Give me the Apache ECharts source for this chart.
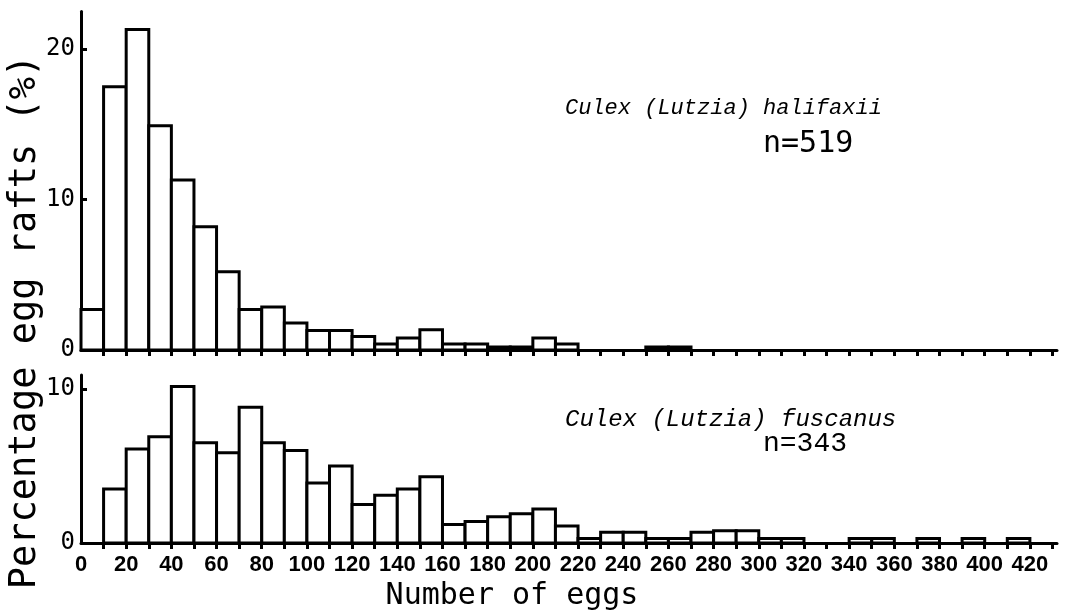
<!DOCTYPE html>
<html>
<head>
<meta charset="utf-8">
<script src="https://cdn.jsdelivr.net/npm/echarts@6/dist/echarts.min.js"></script>
<style>
  html, body { margin: 0; padding: 0; background: #fff; }
  #chart { width: 1066px; height: 614px; }
</style>
</head>
<body>
<div id="chart"></div>
<script>
// bins of 10 eggs, value = start of bin
var binWidth = 10;
var binStarts = [0,10,20,30,40,50,60,70,80,90,100,110,120,130,140,150,160,170,180,190,200,
  210,220,230,240,250,260,270,280,290,300,310,320,330,340,350,360,370,380,390,400,410,420];

// % of egg rafts per bin
var halifaxii = [2.7,17.5,21.3,14.9,11.3,8.2,5.2,2.7,2.85,1.8,1.3,1.3,0.9,0.4,0.8,1.35,0.4,0.4,0.2,0.2,0.8,
  0.4,0,0,0,0.2,0.2,0,0,0,0,0,0,0,0,0,0,0,0,0,0,0,0];
var fuscanus = [0,3.5,6.1,6.9,10.15,6.5,5.85,8.8,6.5,6.0,3.9,5.0,2.5,3.1,3.5,4.3,1.2,1.4,1.7,1.9,2.2,
  1.1,0.3,0.7,0.7,0.3,0.3,0.7,0.8,0.8,0.3,0.3,0,0,0.3,0.3,0,0.3,0,0.3,0,0.3,0];

// tick marks / labels
var xTicks = [10,20,30,40,50,60,70,80,90,100,110,120,130,140,150,160,170,180,190,200,210,
  220,230,240,250,260,270,280,290,300,310,320,330,340,350,360,370,380,390,400,410,420,430];
var xLabels = [0,20,40,60,80,100,120,140,160,180,200,220,240,260,280,300,320,340,360,380,400,420];
var yLabelsTop = [0,10,20];
var yLabelsBottom = [0,10];

var chart = echarts.init(document.getElementById('chart'));

function histItem(params, api) {
  var v = api.value(1);
  if (!v) return null;
  var s = api.value(0);
  var p0 = api.coord([s, v]);
  var p1 = api.coord([s + binWidth, 0]);
  return {
    type: 'rect',
    shape: { x: p0[0], y: p0[1], width: p1[0] - p0[0], height: p1[1] - p0[1] },
    style: { fill: '#fff', stroke: '#000', lineWidth: 3 }
  };
}

function pairs(vals) {
  return binStarts.map(function (s, i) { return [s, vals[i]]; });
}

var axisLine = { show: true, lineStyle: { color: '#000', width: 3 } };

function xAxisOf(idx, withLabels) {
  return {
    type: 'value', gridIndex: idx, min: 0, max: 432,
    axisLine: axisLine,
    splitLine: { show: false },
    axisTick: { show: true, customValues: xTicks, length: 6, inside: false,
      lineStyle: { color: '#000', width: 3 } },
    axisLabel: withLabels ? {
      show: true, customValues: xLabels, margin: 11,
      color: '#000', fontFamily: 'Liberation Sans', fontWeight: 'bold', fontSize: 22
    } : { show: false }
  };
}

function yAxisOf(idx, max, labels) {
  return {
    type: 'value', gridIndex: idx, min: 0, max: max,
    axisLine: axisLine,
    splitLine: { show: false },
    axisTick: { show: true, customValues: labels.slice(1), inside: true, length: 6,
      lineStyle: { color: '#000', width: 3 } },
    axisLabel: {
      show: true, customValues: labels, margin: 6,
      color: '#000', fontFamily: 'DejaVu Sans Mono', fontSize: 24
    }
  };
}

var option = {
  backgroundColor: '#fff',
  animation: false,
  grid: [
    { left: 81, top: 11.5, width: 976, height: 338.5 },
    { left: 81, top: 375, width: 976, height: 168 }
  ],
  xAxis: [xAxisOf(0, false), xAxisOf(1, true)],
  yAxis: [yAxisOf(0, 22.5, yLabelsTop), yAxisOf(1, 10.9, yLabelsBottom)],
  series: [
    { type: 'custom', name: 'halifaxii', xAxisIndex: 0, yAxisIndex: 0,
      renderItem: histItem, encode: { x: 0, y: 1 }, data: pairs(halifaxii) },
    { type: 'custom', name: 'fuscanus', xAxisIndex: 1, yAxisIndex: 1,
      renderItem: histItem, encode: { x: 0, y: 1 }, data: pairs(fuscanus) }
  ],
  graphic: [
    { type: 'text', x: 25, y: 322, rotation: Math.PI / 2,
      style: { text: 'Percentage egg rafts (%)', font: '37px "DejaVu Sans Mono"',
        fill: '#000', align: 'center', verticalAlign: 'middle' } },
    { type: 'text', x: 512, y: 596,
      style: { text: 'Number of eggs', font: '30px "DejaVu Sans Mono"',
        fill: '#000', align: 'center', verticalAlign: 'middle' } },
    { type: 'text', x: 565, y: 108,
      style: { text: 'Culex (Lutzia) halifaxii', font: 'italic 22px "Liberation Mono"',
        fill: '#000', align: 'left', verticalAlign: 'middle' } },
    { type: 'text', x: 763, y: 144,
      style: { text: 'n=519', font: '30px "DejaVu Sans Mono"',
        fill: '#000', align: 'left', verticalAlign: 'middle' } },
    { type: 'text', x: 565, y: 420,
      style: { text: 'Culex (Lutzia) fuscanus', font: 'italic 24px "Liberation Mono"',
        fill: '#000', align: 'left', verticalAlign: 'middle' } },
    { type: 'text', x: 763, y: 444,
      style: { text: 'n=343', font: '28px "Liberation Mono"',
        fill: '#000', align: 'left', verticalAlign: 'middle' } }
  ]
};

chart.setOption(option);
</script>
</body>
</html>
